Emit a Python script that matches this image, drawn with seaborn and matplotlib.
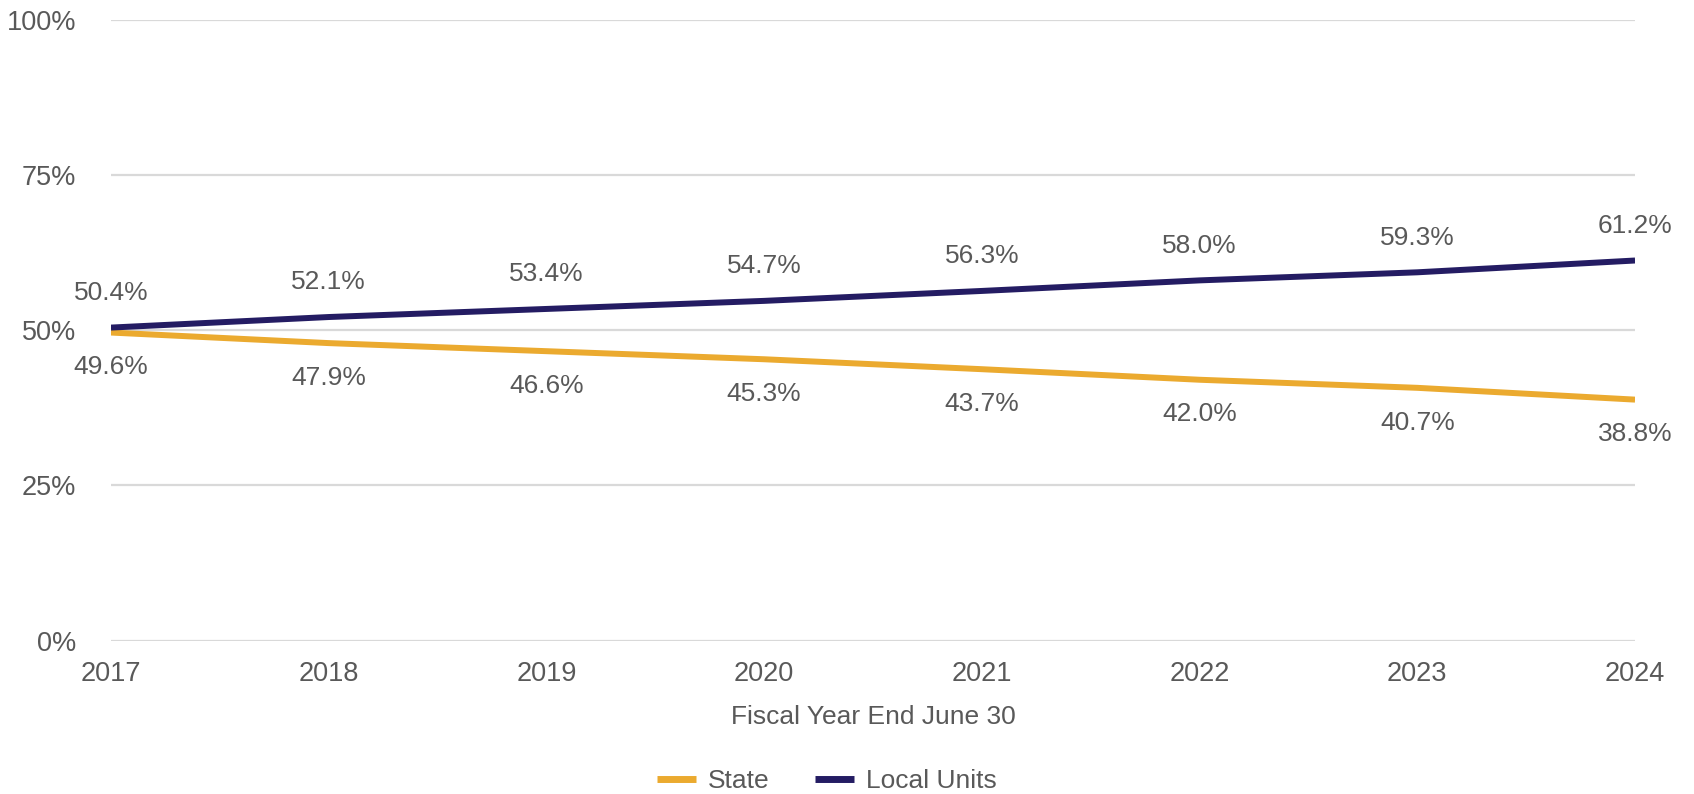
import matplotlib
matplotlib.use("Agg")
import matplotlib.pyplot as plt
import seaborn as sns
import pandas as pd
from matplotlib.ticker import FuncFormatter

years = [2017, 2018, 2019, 2020, 2021, 2022, 2023, 2024]
state = [49.6, 47.9, 46.6, 45.3, 43.7, 42.0, 40.7, 38.8]
local_units = [50.4, 52.1, 53.4, 54.7, 56.3, 58.0, 59.3, 61.2]
series_names = ["State", "Local Units"]
y_ticks = [0, 25, 50, 75, 100]

palette = {"State": "#EBAA2F", "Local Units": "#241C63"}
text_color = "#595959"

df = pd.DataFrame({
    "Year": years * 2,
    "Share": state + local_units,
    "Series": [series_names[0]] * len(years) + [series_names[1]] * len(years),
})

sns.set_theme(style="white")
plt.rcParams["font.family"] = ["Liberation Sans", "DejaVu Sans"]

fig = plt.figure(figsize=(16.94, 7.94), dpi=100)
ax = fig.add_axes([0.0655, 0.1932, 0.8997, 0.7822])

sns.lineplot(data=df, x="Year", y="Share", hue="Series", palette=palette,
             linewidth=4.3, ax=ax, legend=False, zorder=3)
for line in ax.lines:
    line.set_solid_capstyle("butt")

ax.set_xlim(years[0], years[-1])
ax.set_ylim(0, 100)
ax.set_yticks(y_ticks)
ax.yaxis.set_major_formatter(FuncFormatter(lambda v, _: f"{v:.0f}%"))
ax.set_xticks(years)
ax.set_xticklabels([str(y) for y in years])
ax.grid(axis="y", color="#D9D9D9", linewidth=1.6, zorder=0)
ax.grid(axis="x", visible=False)
for s in ax.spines.values():
    s.set_visible(False)
ax.tick_params(axis="y", length=0, pad=25, labelsize=19.5, labelcolor=text_color)
ax.tick_params(axis="x", length=0, pad=15, labelsize=19.5, labelcolor=text_color)
ax.set_xlabel("Fiscal Year End June 30", fontsize=19, color=text_color, labelpad=13)
ax.set_ylabel("")

# value labels: local units above the line, state below
for x, v in zip(years, local_units):
    ax.annotate(f"{v:.1f}%", (x, v), xytext=(0, 25), textcoords="offset points",
                ha="center", va="center", fontsize=19, color=text_color,
                annotation_clip=False)
for x, v in zip(years, state):
    ax.annotate(f"{v:.1f}%", (x, v), xytext=(0, -25), textcoords="offset points",
                ha="center", va="center", fontsize=19, color=text_color,
                annotation_clip=False)

handles = [plt.Line2D([], [], color=palette[n], linewidth=5, solid_capstyle="butt")
           for n in series_names]
fig.legend(handles, series_names, loc="center", bbox_to_anchor=(0.488, 0.0165),
           ncol=2, frameon=False, fontsize=19, labelcolor=text_color,
           handlelength=1.5, handletextpad=0.45, columnspacing=1.7,
           borderpad=0, borderaxespad=0)

fig.savefig("out.png", dpi=100, facecolor="white")
